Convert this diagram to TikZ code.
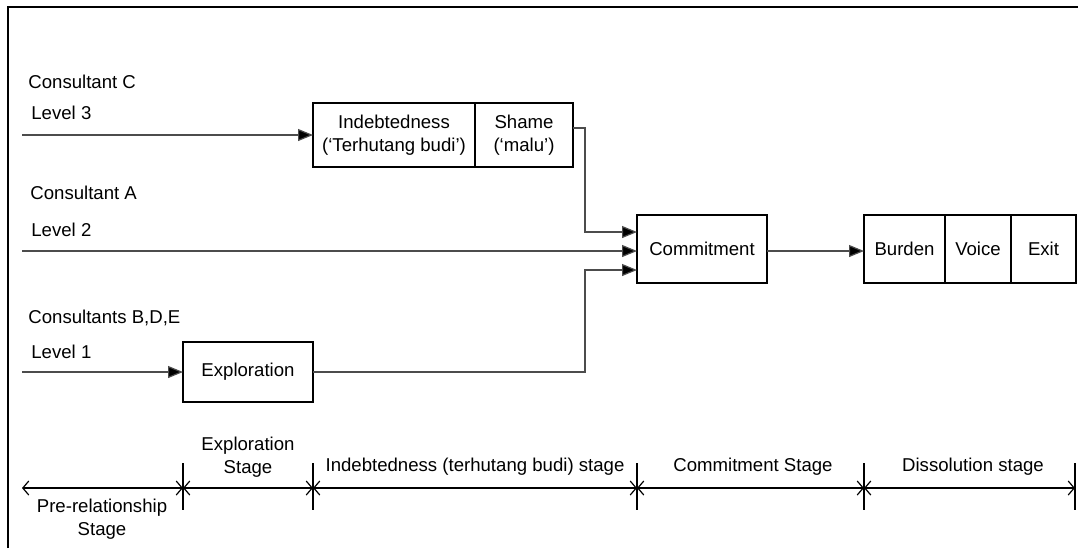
\documentclass[tikz,border=0pt]{standalone}
\usepackage{fontspec}
\setmainfont{Liberation Sans}
\usepackage{tikz}
\usetikzlibrary{arrows.meta, positioning}
\tikzstyle{box} = [rectangle, draw, line width=0.8pt, outer sep=0pt, inner sep=1pt, align=center, minimum height=32pt]
\tikzstyle{arrow} = [line width=0.6pt, draw=black!70, -{Triangle[length=7.5pt,width=6pt,fill=black]}]
\tikzstyle{span} = [line width=0.6pt, {Straight Barb[length=3pt,width=7pt]}-{Straight Barb[length=3pt,width=7pt]}]
\tikzstyle{lbl} = [inner sep=0pt, anchor=west]
\tikzstyle{stagelbl} = [inner sep=0pt, align=center]

\begin{document}
\begin{tikzpicture}[x=0.5pt, y=-0.5pt, font=\fontsize{9.3}{11.3}\selectfont]

\useasboundingbox (0,0) rectangle (1078,548);
% frame
\draw[line width=0.8pt] (8,548) -- (8,7) -- (1078,7);

% consultants and levels
\node[lbl] (consC) at (28,82) {Consultant C};
\node[lbl] (lev3) at (31,113) {Level 3};
\node[lbl] (consA) at (30,193) {Consultant A};
\node[lbl] (lev2) at (31,230) {Level 2};
\node[lbl] (consBDE) at (28,318) {Consultants B,D,E};
\node[lbl] (lev1) at (31,352) {Level 1};

\coordinate (in3) at (22,135);
\coordinate (in2) at (22,251);
\coordinate (in1) at (22,372);

% boxes
\node[box, minimum width=81pt, anchor=west] (indebt) at (313,135) {Indebtedness\\(`Terhutang budi')};
\node[box, minimum width=49pt, right=0pt of indebt] (shame) {Shame\\(`malu')};
\node[box, minimum width=65pt, minimum height=34pt, anchor=west] (commit) at (637,249) {Commitment};
\node[box, minimum width=65pt, minimum height=30pt, anchor=west] (explor) at (183,372) {Exploration};
\node[box, minimum width=40.5pt, minimum height=34pt, anchor=west] (burden) at (864,249) {Burden};
\node[box, minimum width=33pt, minimum height=34pt, right=0pt of burden] (voice) {Voice};
\node[box, minimum width=32.5pt, minimum height=34pt, right=0pt of voice] (exit) {Exit};

% connectors
\draw[arrow] (in3) -- (indebt.west);
\draw[arrow] (in2) -- ([yshift=-1pt]commit.west);
\draw[arrow] (in1) -- (explor.west);
\draw[arrow] ([yshift=3.5pt]shame.east) -- ++(12,0) |- ([yshift=8.5pt]commit.west);
\draw[arrow] (explor.east) -- (585,372) |- ([yshift=-10.5pt]commit.west);
\draw[arrow] ([yshift=-1pt]commit.east) -- ([yshift=-1pt]burden.west);

% stages
\coordinate (t0) at (22,488);
\coordinate (t1) at (183,488);
\coordinate (t2) at (313,488);
\coordinate (t3) at (637,488);
\coordinate (t4) at (864,488);
\coordinate (t5) at (1075,488);
\foreach \t in {t1,t2,t3,t4,t5}
  \draw[line width=0.6pt] ([yshift=12.5pt]\t) -- ([yshift=-11pt]\t);
\draw[span] (t0) -- (t1);
\draw[span] (t1) -- (t2);
\draw[span] (t2) -- (t3);
\draw[span] (t3) -- (t4);
\draw[span] (t4) -- (t5);

\node[stagelbl] (preS) at (102,519) {Pre-relationship\\Stage};
\node[stagelbl] (explS) at (248,457) {Exploration\\Stage};
\node[stagelbl] (indS) at (475,467) {Indebtedness (terhutang budi) stage};
\node[stagelbl] (comS) at (753,467) {Commitment Stage};
\node[stagelbl] (disS) at (973,467) {Dissolution stage};

\end{tikzpicture}
\end{document}
